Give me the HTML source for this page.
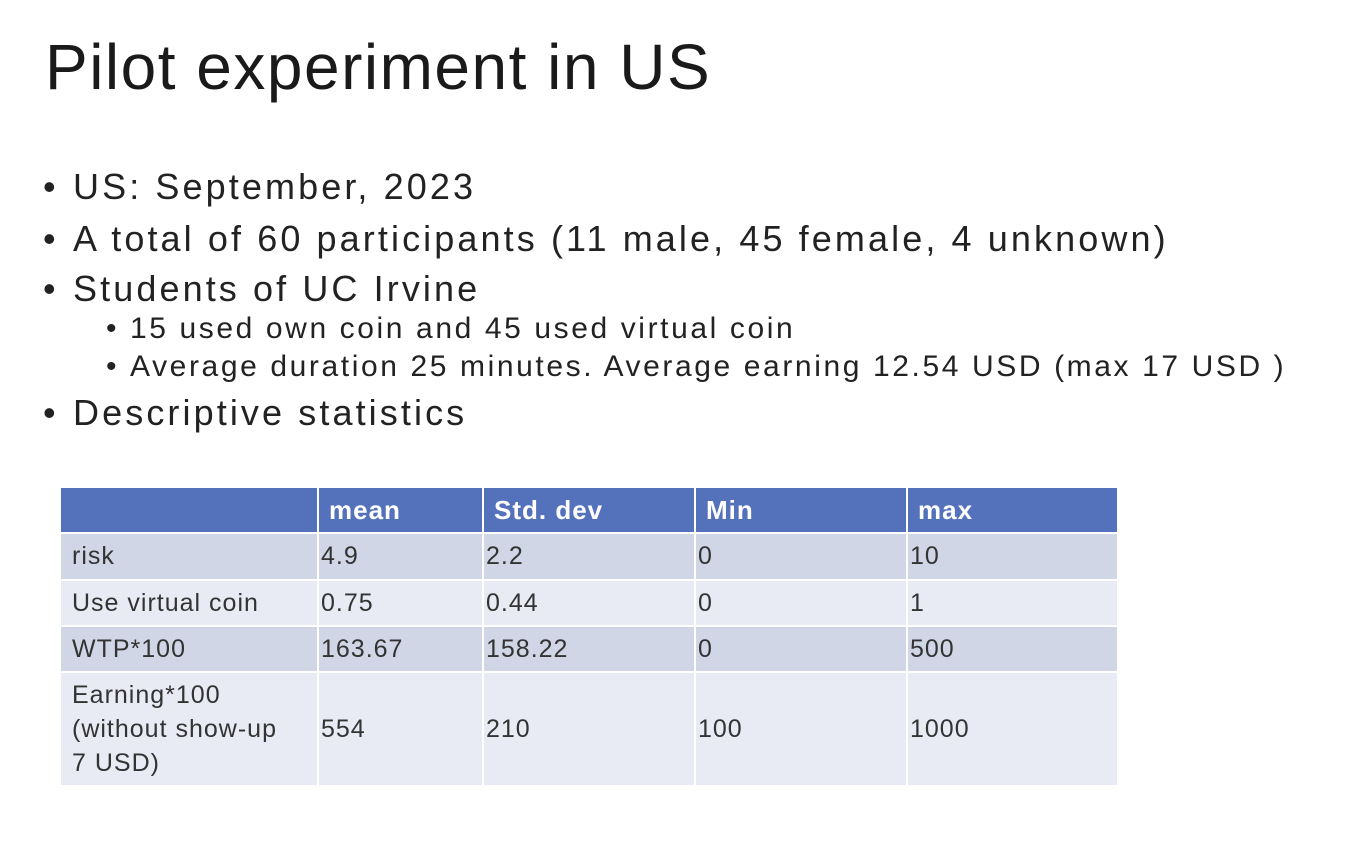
<!DOCTYPE html>
<html><head><meta charset="utf-8">
<style>
body{margin:0;width:1368px;height:860px;background:#fff;font-family:"Liberation Sans","Noto Sans CJK JP",sans-serif;color:#222;position:relative;overflow:hidden}
.t{position:absolute;white-space:nowrap}
#title{left:45px;top:30px;font-size:64px;font-weight:300;color:#1a1a1a;letter-spacing:1.5px}
.b1{font-size:36px;left:73px;letter-spacing:3.1px}
.b2{font-size:30px;left:130px;letter-spacing:2.6px}
.b1::before{content:"•";position:absolute;left:-30px}
.b2::before{content:"•";position:absolute;left:-24px}
table{position:absolute;left:61px;top:488px;border-collapse:separate;border-spacing:2px 2px;margin-left:-2px;margin-top:-2px;font-size:25px;letter-spacing:1px;table-layout:fixed}
td,th{padding:0 0 0 2px;text-align:left;vertical-align:middle;color:#333;overflow:hidden}
th{background:#5472bc;color:#fff;font-weight:bold;height:44px;padding-left:10px;font-size:26px}
tr.o td{background:#d1d6e7}
tr.e td{background:#e9ebf4}
td.f{padding-left:11px}
</style></head><body>
<div id="title" class="t">Pilot experiment in US</div>
<div class="t b1" style="top:166px">US: September, 2023</div>
<div class="t b1" style="top:218px">A total of 60 participants (11 male, 45 female, 4 unknown)</div>
<div class="t b1" style="top:268px">Students of UC Irvine</div>
<div class="t b2" style="top:312px">15 used own coin and 45 used virtual coin</div>
<div class="t b2" style="top:350px">Average duration 25 minutes. Average earning 12.54 USD (max 17 USD )</div>
<div class="t b1" style="top:392px">Descriptive statistics</div>
<table>
<tr><th style="width:246px"></th><th style="width:153px">mean</th><th style="width:200px">Std. dev</th><th style="width:200px">Min</th><th style="width:199px">max</th></tr>
<tr class="o" style="height:45px"><td class="f">risk</td><td>4.9</td><td>2.2</td><td>0</td><td>10</td></tr>
<tr class="e" style="height:44px"><td class="f">Use virtual coin</td><td>0.75</td><td>0.44</td><td>0</td><td>1</td></tr>
<tr class="o" style="height:44px"><td class="f">WTP*100</td><td>163.67</td><td>158.22</td><td>0</td><td>500</td></tr>
<tr class="e" style="height:112px"><td class="f" style="line-height:34px">Earning*100<br>(without show-up<br>7 USD)</td><td>554</td><td>210</td><td>100</td><td>1000</td></tr>
</table>
</body></html>
